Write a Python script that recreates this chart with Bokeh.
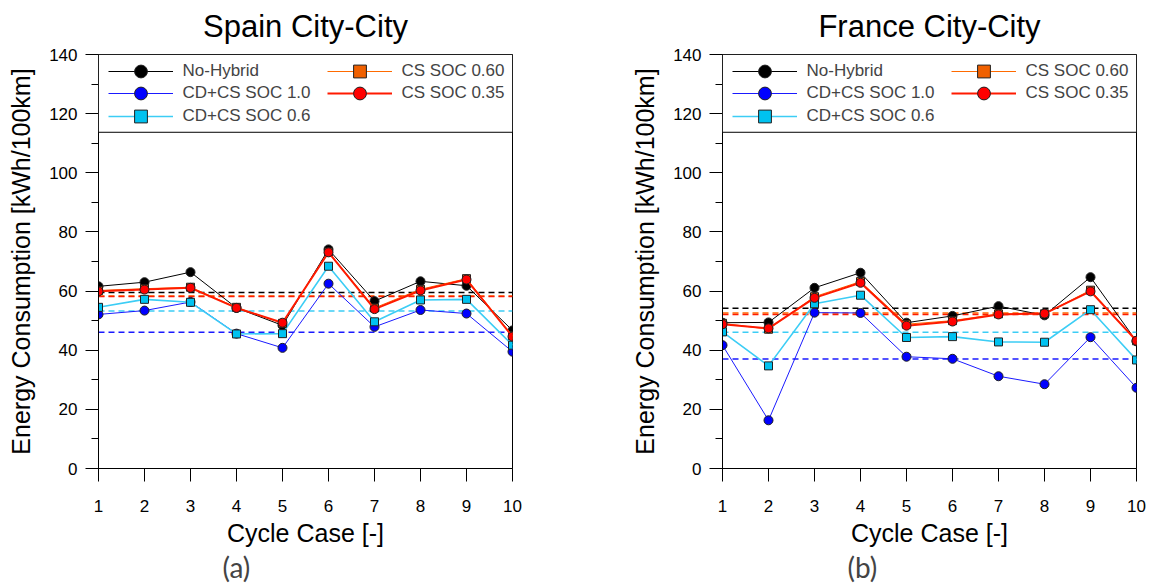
from bokeh.plotting import figure
from bokeh.models import (SingleIntervalTicker, FixedTicker, Legend, LegendItem,
                          BoxAnnotation, Title, Range1d)
from bokeh.layouts import row
from bokeh.embed import file_html
from bokeh.resources import INLINE

# ---------------- data ----------------
cycles = [1, 2, 3, 4, 5, 6, 7, 8, 9, 10]
series_names = ["No-Hybrid", "CD+CS SOC 1.0", "CD+CS SOC 0.6", "CS SOC 0.60", "CS SOC 0.35"]

spain_no_hybrid = [61.6, 63.0, 66.4, 54.3, 48.4, 74.1, 56.6, 63.3, 61.8, 46.7]
spain_cdcs_10 = [52.1, 53.4, 56.3, 45.6, 40.8, 62.5, 47.9, 53.6, 52.4, 39.5]
spain_cdcs_06 = [54.5, 57.2, 56.2, 45.5, 45.6, 68.4, 49.6, 57.0, 57.2, 41.7]
spain_cs_060 = [60.2, 60.8, 61.3, 54.5, 49.1, 73.2, 54.3, 60.6, 64.2, 44.9]
spain_cs_035 = [59.9, 60.5, 61.1, 54.3, 49.3, 73.1, 53.9, 60.2, 63.9, 44.6]
spain_avg = [59.5, 46.1, 53.3, 58.3, 58.2]

france_no_hybrid = [49.3, 49.4, 61.1, 66.2, 49.3, 51.6, 54.9, 51.8, 64.7, 43.0]
france_cdcs_10 = [41.7, 16.3, 52.7, 52.6, 37.8, 37.1, 31.2, 28.5, 44.4, 27.3]
france_cdcs_06 = [46.2, 34.7, 55.7, 58.6, 44.3, 44.6, 42.8, 42.7, 53.7, 36.7]
france_cs_060 = [49.1, 47.1, 58.1, 63.2, 48.8, 50.0, 52.3, 52.3, 60.3, 43.2]
france_cs_035 = [48.8, 47.4, 57.7, 62.8, 48.3, 49.7, 52.1, 52.4, 59.9, 43.2]
france_avg = [54.2, 37.0, 46.1, 52.6, 52.1]

y_ticks_major = 20
y_min, y_max = 0, 140
legend_box_bottom = 113.7

# ---------------- styles ----------------
FONT = "Liberation Sans"
styles = [
    dict(line="#000000", lw=1.0, marker="circle", fill="#000000", size=9),
    dict(line="#1a1aff", lw=1.0, marker="circle", fill="#0000ff", size=9),
    dict(line="#3ccdf5", lw=1.6, marker="square", fill="#00c2f0", size=8),
    dict(line="#ff6a00", lw=1.0, marker="square", fill="#f06000", size=8),
    dict(line="#ff1a00", lw=2.0, marker="circle", fill="#ff0000", size=9),
]
# legend slot (column x offset, row) for each series
legend_slots = [(9.5, 0), (9.5, 1), (9.5, 2), (228.5, 0), (228.5, 1)]
FRAME = 414


def make_panel(title, letter, vals, avgs, bl, br, letter_offset, right_outline):
    p = figure(frame_width=FRAME, frame_height=FRAME, output_backend="svg",
               toolbar_location=None,
               x_range=Range1d(cycles[0], cycles[-1]), y_range=Range1d(y_min, y_max),
               min_border_left=bl, min_border_right=br, min_border_top=54,
               min_border_bottom=117)
    p.grid.visible = False
    p.outline_line_color = right_outline
    p.outline_line_width = 1
    p.outline_line_alpha = 1.0

    p.title.text = title
    p.title.text_font = FONT
    p.title.text_font_size = "31px"
    p.title.text_font_style = "normal"
    p.title.text_color = "black"
    p.title.align = "center"
    p.title.vertical_align = "top"
    p.title.standoff = 17

    # axes
    p.xaxis.ticker = FixedTicker(ticks=cycles)
    p.yaxis.ticker = SingleIntervalTicker(interval=y_ticks_major, num_minor_ticks=2)
    for ax in (p.xaxis[0], p.yaxis[0]):
        ax.axis_line_color = "black"
        ax.major_tick_line_color = "black"
        ax.minor_tick_line_color = "black"
        ax.major_tick_out = 13
        ax.major_tick_in = 0
        ax.minor_tick_out = 7
        ax.minor_tick_in = 0
        ax.major_label_text_font = FONT
        ax.major_label_text_font_size = "17px"
        ax.major_label_text_color = "black"
        ax.axis_label_text_font = FONT
        ax.axis_label_text_font_size = "25px"
        ax.axis_label_text_font_style = "normal"
        ax.axis_label_text_color = "black"
    p.xaxis.minor_tick_line_color = None
    p.xaxis.axis_label = "Cycle Case [-]"
    p.xaxis.major_label_standoff = 18
    p.xaxis.axis_label_standoff = 4
    p.yaxis.axis_label = "Energy Consumption [kWh/100km]"
    p.yaxis.major_label_standoff = 8
    p.yaxis.axis_label_standoff = 11

    # dashed average lines
    for st, a in zip(styles, avgs):
        p.line([cycles[0], cycles[-1]], [a, a], line_color=st["line"], line_width=1.5,
               line_dash="6 4")

    items = []
    for name, st, v in zip(series_names, styles, vals):
        lr = p.line(cycles, v, line_color=st["line"], line_width=st["lw"])
        sr = p.scatter(cycles, v, marker=st["marker"], size=st["size"],
                       fill_color=st["fill"], line_color="#202020", line_width=1)
        items.append(LegendItem(label=name, renderers=[lr, sr]))

    # legend frame
    box = BoxAnnotation(left=cycles[0], right=cycles[-1], bottom=legend_box_bottom, top=y_max,
                        fill_color="white", fill_alpha=1.0, line_color="black",
                        line_alpha=1.0, line_width=1)
    p.add_layout(box)

    for it, (lx, r) in zip(items, legend_slots):
        # row centres 16.7, 39.4, 62.1 px below frame top; item height 32
        yb = FRAME - (16.7 + 22.7 * r) - 16
        lg = Legend(items=[it], location=(lx, yb), orientation="vertical",
                    padding=0, margin=0, spacing=0, glyph_width=65, glyph_height=32,
                    label_height=32, label_standoff=10,
                    label_text_font=FONT, label_text_font_size="17px",
                    border_line_color=None, background_fill_alpha=0.0)
        p.add_layout(lg, "center")

    p.add_layout(Title(text=letter, align="left", offset=letter_offset, text_font="Lato",
                       text_font_size="28px", text_font_style="normal",
                       vertical_align="middle", standoff=-1), "below")
    return p


p1 = make_panel("Spain City-City", "(a)",
                [spain_no_hybrid, spain_cdcs_10, spain_cdcs_06, spain_cs_060, spain_cs_035],
                spain_avg, 98, 68, 124, "black")
p2 = make_panel("France City-City", "(b)",
                [france_no_hybrid, france_cdcs_10, france_cdcs_06, france_cs_060, france_cs_035],
                france_avg, 142, 12, 125, "black")

layout = row(p1, p2)
open("out.html", "w").write(file_html(layout, INLINE))
